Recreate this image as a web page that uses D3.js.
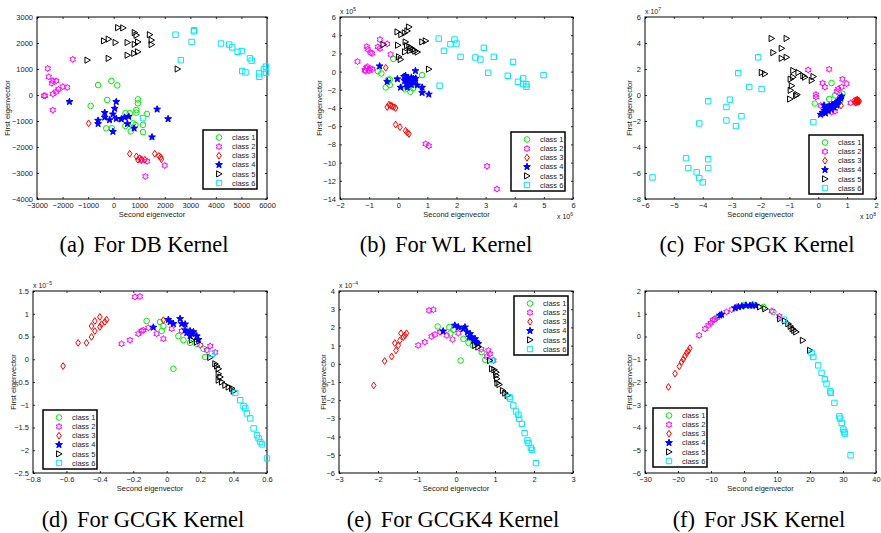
<!DOCTYPE html>
<html>
<head>
<meta charset="utf-8">
<script src="https://cdn.jsdelivr.net/npm/d3@7"></script>
<style>
  body { margin: 0; background: #fff; }
</style>
</head>
<body>
<div id="fig"></div>
<script>
const classNames = ["class 1", "class 2", "class 3", "class 4", "class 5", "class 6"];
const classColors = ["#00ee00", "#ff00ff", "#ff0000", "#0000ff", "#000000", "#00e5ff"];

// (a) DB kernel, one list per class
const dbPts = [
  [[-610,380],[-90,540],[140,370],[-250,-190],[950,-170],[950,-320],[-900,-420],[1300,-730],[890,-580],[890,-680],[460,-700],[630,-700],[-290,-1280],[-70,-1280],[460,-1190],[670,-1400],[760,-1090],[850,-1150],[1150,-1150],[1150,-1430]],
  [[-1600,1370],[-2580,1020],[-2540,700],[-2380,550],[-2250,540],[-2420,450],[-1990,320],[-1820,290],[-2160,220],[-2250,130],[-2380,40],[-2730,-30],[-2680,-30],[-2380,-580],[1090,-2520],[1310,-2550],[2000,-2710],[1240,-3130]],
  [[-980,-1090],[630,-2260],[890,-2360],[950,-2490],[1020,-2430],[1090,-2470],[1220,-2490],[1610,-2260],[1770,-2340],[1840,-2390],[1870,-2470]],
  [[-1730,-260],[100,-260],[40,-520],[-350,-680],[-30,-740],[-350,-860],[-160,-960],[-610,-980],[-610,-1110],[100,-910],[300,-930],[430,-860],[590,-830],[540,-1110],[800,-1280],[-30,-1410],[1700,-550],[2130,-920],[1500,-1620]],
  [[170,2590],[370,2580],[-380,2080],[-200,2150],[70,2020],[540,2020],[820,2400],[890,2300],[820,1950],[950,2040],[1410,2320],[1480,2110],[1480,1940],[540,1530],[800,1600],[950,1660],[-1030,1340],[-200,1410],[2500,1000]],
  [[2420,2320],[3140,2450],[3150,2490],[3050,2040],[2630,1340],[4200,1980],[4520,1940],[4640,1830],[4850,1660],[5010,1690],[5330,1410],[5400,1320],[5030,920],[5160,870],[5690,830],[5700,700],[5880,1000],[5960,1090],[5960,860],[1150,-890]]
];

// (b) WL kernel (x in 1e6, y in 1e5)
const wlPts = [
  [[-0.17,1.40],[-0.70,0.05],[-0.58,-0.20],[-0.29,-0.86],[-0.35,-0.90],[-0.29,-1.47],[-0.43,-1.74],[0.19,-1.59],[0.25,-1.95],[0.42,-2.21],[0.51,-1.85],[0.82,-0.38],[0.37,-1.66]],
  [[-1.40,1.10],[-1.05,2.45],[-1.08,2.75],[-0.95,2.10],[-0.90,2.00],[-0.63,3.52],[-0.70,2.72],[-0.63,2.53],[-0.38,3.05],[-0.26,1.88],[-1.15,0.16],[-1.06,0.53],[-0.97,0.34],[-0.89,0.27],[-1.10,0.40],[-1.00,0.10],[-1.12,0.05],[0.94,-7.94],[1.05,-8.16],[3.05,-10.4],[3.39,-12.9]],
  [[-0.43,0.42],[-0.38,-3.90],[-0.32,-3.63],[-0.26,-3.70],[-0.21,-3.80],[-0.15,-3.90],[-0.09,-4.00],[-0.09,-5.82],[0.06,-6.10],[0.25,-6.50],[0.31,-6.70],[0.37,-6.85]],
  [[-0.64,0.60],[-0.38,-1.10],[-0.03,-0.82],[0.25,-0.45],[0.30,-0.70],[0.35,-0.75],[0.45,-0.65],[0.52,-0.80],[0.60,-0.75],[0.22,-1.00],[0.28,-1.30],[0.40,-1.20],[0.55,-1.10],[0.65,-1.50],[0.59,0.08],[0.82,-1.74],[0.82,-2.32],[1.05,-2.50],[0.08,-1.74],[0.31,-1.74],[0.20,-0.55],[0.45,-1.45]],
  [[-0.03,4.36],[0.10,4.07],[0.22,4.25],[0.31,4.47],[0.37,4.90],[-0.51,2.97],[-0.01,2.90],[0.25,3.26],[0.30,2.85],[0.38,2.70],[0.45,2.60],[0.52,2.40],[0.58,2.25],[0.66,2.15],[0.40,2.30],[0.82,3.26],[0.94,3.37],[0.02,1.62],[0.08,1.33],[0.23,2.17],[1.05,0.27]],
  [[1.39,3.63],[1.57,2.28],[1.79,3.01],[1.93,3.52],[2.00,3.08],[2.14,1.62],[2.65,1.55],[2.82,1.33],[2.94,2.61],[3.28,1.62],[3.94,1.07],[3.09,-0.13],[3.76,-0.46],[4.11,-1.12],[4.29,-0.75],[4.29,-1.37],[4.40,-1.40],[4.40,-1.66],[4.99,-0.39],[1.42,-1.55]]
];

// (c) SPGK kernel (x in 1e8, y in 1e7)
const spgkPts = [
  [[0.46,0.92],[-0.12,-0.66],[0.38,-0.31],[0.58,-0.03],[0.84,0.10],[0.29,-1.12],[0.75,-0.48]],
  [[-0.35,1.93],[0.38,1.98],[0.15,0.92],[0.23,0.61],[-0.08,0.03],[-0.08,-0.15],[0.64,0.28],[0.81,0.61],[0.84,1.22],[0.98,0.87],[0.08,-0.81],[0.46,-1.32],[0.58,-1.25],[1.12,-0.61],[0.69,0.46]],
  [[1.24,-0.45],[1.28,-0.55],[1.31,-0.40],[1.33,-0.50],[1.36,-0.45],[1.38,-0.55],[1.40,-0.42],[1.30,-0.60],[1.35,-0.35],[1.42,-0.50],[0.79,-0.81]],
  [[0.08,-1.50],[0.15,-1.35],[0.22,-1.20],[0.28,-1.10],[0.32,-0.95],[0.38,-0.85],[0.42,-1.00],[0.48,-0.75],[0.52,-0.90],[0.58,-0.70],[0.62,-0.60],[0.68,-0.50],[0.72,-0.40],[0.78,-0.25],[0.81,-0.10],[0.25,-1.40],[0.35,-1.20],[0.45,-1.10],[0.55,-0.95],[0.65,-0.80],[0.20,-0.80]],
  [[-1.62,4.35],[-1.10,4.35],[-1.27,3.59],[-1.56,3.26],[-1.27,2.82],[-1.10,2.90],[-1.96,1.73],[-1.85,1.63],[-0.87,1.88],[-0.69,1.73],[-0.96,1.22],[-0.87,1.37],[-0.52,1.48],[-0.46,1.37],[-0.17,1.42],[-0.23,1.12],[-0.92,0.71],[-0.96,0.36],[-0.77,-0.05],[-0.98,-0.31],[-0.73,0.03]],
  [[-2.08,2.90],[-2.77,1.68],[-2.39,0.61],[-1.96,0.46],[-3.81,-0.48],[-3.06,-0.36],[-3.18,-0.92],[-2.66,-1.63],[-3.18,-1.96],[-4.12,-2.19],[-2.85,-2.39],[-0.17,-2.09],[-4.58,-4.86],[-3.81,-4.94],[-4.50,-5.62],[-3.81,-5.62],[-4.21,-5.95],[-4.12,-6.39],[-4.00,-6.72],[-5.74,-6.34]]
];

// (d) GCGK kernel (y in 1e-5)
const gcgkPts = [
  [[-0.12,0.84],[-0.04,0.82],[-0.02,0.73],[-0.03,0.62],[0.04,-0.21],[0.07,0.51],[0.10,0.42],[0.14,0.36],[0.18,0.34],[0.22,0.23],[0.23,0.05]],
  [[-0.19,1.37],[-0.16,1.38],[-0.27,0.34],[-0.22,0.42],[-0.17,0.56],[-0.15,0.62],[-0.14,0.64],[-0.11,0.69],[-0.06,0.56],[-0.02,0.45],[0.03,0.67],[0.09,0.62],[0.20,0.31],[0.24,0.20],[0.26,0.29],[0.29,0.15]],
  [[-0.62,-0.15],[-0.53,0.36],[-0.48,0.36],[-0.45,0.49],[-0.43,0.62],[-0.40,0.71],[-0.39,0.77],[-0.37,0.82],[-0.36,0.87],[-0.45,0.73],[-0.43,0.84],[-0.40,0.93],[-0.02,0.86]],
  [[-0.08,0.70],[0.01,0.87],[0.02,0.82],[0.04,0.78],[0.08,0.89],[0.09,0.78],[0.11,0.77],[0.11,0.64],[0.12,0.58],[0.14,0.62],[0.15,0.56],[0.16,0.60],[0.18,0.51],[0.19,0.43],[0.14,0.51]],
  [[0.15,0.42],[0.18,0.38],[0.26,0.04],[0.29,-0.10],[0.30,-0.15],[0.31,-0.21],[0.32,-0.39],[0.31,-0.46],[0.33,-0.50],[0.35,-0.57],[0.37,-0.61],[0.39,-0.64],[0.40,-0.70],[0.31,-0.32]],
  [[0.27,0.12],[0.41,-0.74],[0.44,-0.90],[0.46,-1.03],[0.47,-1.08],[0.48,-1.19],[0.50,-1.30],[0.52,-1.52],[0.54,-1.67],[0.55,-1.74],[0.56,-1.82],[0.57,-1.87],[0.60,-2.18]]
];

// (e) GCGK4 kernel (y in 1e-4)
const gcgk4Pts = [
  [[-0.47,2.05],[-0.17,2.01],[-0.14,1.68],[-0.07,1.87],[0.12,0.18],[0.19,1.37],[0.32,1.15],[0.43,1.01],[0.66,0.64],[0.75,0.22]],
  [[-0.97,1.01],[-0.80,1.19],[-0.69,2.93],[-0.58,2.97],[-0.63,1.50],[-0.54,1.61],[-0.41,1.74],[-0.24,1.56],[-0.09,1.34],[0.06,1.68],[0.83,0.73],[0.87,0.55],[0.79,0.40],[0.96,0.18],[0.65,0.80]],
  [[-2.11,-1.19],[-1.83,0.15],[-1.65,0.40],[-1.54,0.73],[-1.57,1.14],[-1.48,1.01],[-1.44,1.28],[-1.41,1.68],[-1.35,1.47],[-1.31,1.56],[-1.27,1.68]],
  [[-0.33,1.79],[-0.03,2.11],[0.06,2.01],[0.19,1.92],[0.23,2.01],[0.29,1.74],[0.36,1.65],[0.40,1.47],[0.45,1.28],[0.49,1.37],[0.53,1.19],[0.57,1.10],[0.34,1.47]],
  [[0.49,1.01],[0.57,0.92],[0.87,0.18],[0.92,-0.27],[0.98,-0.33],[1.03,-0.46],[1.05,-0.82],[1.06,-1.06],[1.11,-1.14],[1.20,-1.47],[1.26,-1.61],[1.32,-1.74],[1.03,-0.64]],
  [[0.92,0.22],[1.37,-1.83],[1.39,-1.92],[1.47,-2.29],[1.54,-2.62],[1.60,-2.80],[1.62,-3.02],[1.69,-3.30],[1.76,-3.81],[1.83,-4.21],[1.86,-4.36],[1.92,-4.62],[1.95,-4.73],[2.05,-5.46]]
];

// (f) JSK kernel
const jskPts = [
  [[-8.8,0.78],[0.0,1.37],[2.8,1.40],[5.9,1.30],[8.9,1.08]],
  [[-13.6,0.05],[-11.8,0.34],[-10.8,0.49],[-10.1,0.59],[-9.5,0.71],[-9.0,0.75],[-8.1,0.83],[-5.3,1.08],[-3.7,1.18],[-2.2,1.30],[8.4,1.12],[10.7,0.89]],
  [[-22.9,-2.22],[-20.9,-1.63],[-19.6,-1.31],[-18.9,-1.12],[-18.4,-1.00],[-17.9,-0.86],[-17.4,-0.73],[-16.9,-0.64],[-16.4,-0.51]],
  [[-7.3,0.93],[-6.8,0.97],[-2.7,1.25],[-1.7,1.30],[0.6,1.37],[1.8,1.36],[2.6,1.37],[3.6,1.36],[-0.7,1.33]],
  [[4.8,1.30],[6.4,1.22],[10.9,0.78],[12.4,0.68],[13.4,0.56],[14.1,0.45],[14.7,0.34],[15.2,0.27],[15.8,0.20],[17.8,-0.17],[20.0,-0.61]],
  [[12.1,0.74],[20.5,-0.73],[21.0,-0.90],[22.5,-1.27],[23.5,-1.60],[24.5,-1.88],[25.0,-2.07],[26.1,-2.41],[26.3,-2.48],[27.4,-2.92],[28.9,-3.51],[29.1,-3.61],[29.6,-3.80],[30.1,-4.09],[30.4,-4.20],[30.6,-4.27],[32.3,-5.22]]
];

// tick values
const dbXTicks = [-3000,-2000,-1000,0,1000,2000,3000,4000,5000,6000];
const dbYTicks = [-4000,-3000,-2000,-1000,0,1000,2000,3000];
const wlXTicks = [-2,-1,0,1,2,3,4,5,6];
const wlYTicks = [-14,-12,-10,-8,-6,-4,-2,0,2,4,6];
const spgkXTicks = [-6,-5,-4,-3,-2,-1,0,1,2];
const spgkYTicks = [-8,-6,-4,-2,0,2,4,6];
const gcgkXTicks = [-0.8,-0.6,-0.4,-0.2,0,0.2,0.4,0.6];
const gcgkYTicks = [-2.5,-2,-1.5,-1,-0.5,0,0.5,1,1.5];
const gcgk4XTicks = [-3,-2,-1,0,1,2,3];
const gcgk4YTicks = [-6,-5,-4,-3,-2,-1,0,1,2,3,4];
const jskXTicks = [-30,-20,-10,0,10,20,30,40];
const jskYTicks = [-6,-5,-4,-3,-2,-1,0,1,2];

const panels = [
  { pts: dbPts, tag: "(a)", title: "For DB Kernel", box: [37, 17, 267, 199],
    xDom: [-3000, 6000], yDom: [-4000, 3000], xt: dbXTicks, yt: dbYTicks,
    xExp: null, yExp: null, leg: [203, 130], yLabX: 7, cap: [144, 252] },
  { pts: wlPts, tag: "(b)", title: "For WL Kernel", box: [340, 17, 573, 199],
    xDom: [-2, 6], yDom: [-14, 6], xt: wlXTicks, yt: wlYTicks,
    xExp: "6", yExp: "5", leg: [511, 132], yLabX: 319, cap: [446, 252] },
  { pts: spgkPts, tag: "(c)", title: "For SPGK Kernel", box: [645, 17, 876, 199],
    xDom: [-6, 2], yDom: [-8, 6], xt: spgkXTicks, yt: spgkYTicks,
    xExp: "8", yExp: "7", leg: [809, 135], yLabX: 629, cap: [757, 252] },
  { pts: gcgkPts, tag: "(d)", title: "For GCGK Kernel", box: [33, 291, 267, 473],
    xDom: [-0.8, 0.6], yDom: [-2.5, 1.5], xt: gcgkXTicks, yt: gcgkYTicks,
    xExp: null, yExp: "\u22125", leg: [43, 410], yLabX: 13, cap: [143, 527] },
  { pts: gcgk4Pts, tag: "(e)", title: "For GCGK4 Kernel", box: [339, 291, 573, 473],
    xDom: [-3, 3], yDom: [-6, 4], xt: gcgk4XTicks, yt: gcgk4YTicks,
    xExp: null, yExp: "\u22124", leg: [514, 296], yLabX: 323, cap: [453, 527] },
  { pts: jskPts, tag: "(f)", title: "For JSK Kernel", box: [645, 291, 876, 473],
    xDom: [-30, 40], yDom: [-6, 2], xt: jskXTicks, yt: jskYTicks,
    xExp: null, yExp: null, leg: [653, 408], yLabX: 629, cap: [759, 527] }
];

// marker shapes, MATLAB style: o h d p > s
function markerPath(k) {
  const p = d3.path();
  if (k === 0) { p.arc(0, 0, 2.8, 0, 2 * Math.PI); }
  else if (k === 1) {
    for (let i = 0; i < 12; i++) {
      const r = i % 2 ? 1.9 : 3.2, a = i * Math.PI / 6 - Math.PI / 2;
      i ? p.lineTo(r * Math.cos(a), r * Math.sin(a)) : p.moveTo(r * Math.cos(a), r * Math.sin(a));
    }
    p.closePath();
  }
  else if (k === 2) { p.moveTo(0, -3.4); p.lineTo(2.3, 0); p.lineTo(0, 3.4); p.lineTo(-2.3, 0); p.closePath(); }
  else if (k === 3) {
    for (let i = 0; i < 10; i++) {
      const r = i % 2 ? 1.5 : 3.6, a = i * Math.PI / 5 - Math.PI / 2;
      i ? p.lineTo(r * Math.cos(a), r * Math.sin(a)) : p.moveTo(r * Math.cos(a), r * Math.sin(a));
    }
    p.closePath();
  }
  else if (k === 4) { p.moveTo(-2.4, -3.1); p.lineTo(3.1, 0); p.lineTo(-2.4, 3.1); p.closePath(); }
  else { p.rect(-2.7, -2.7, 5.4, 5.4); }
  return p.toString();
}

const svg = d3.select("#fig").append("svg")
  .attr("width", 881).attr("height", 533)
  .style("font-family", "'Liberation Sans', Arial, sans-serif");

function expLabel(g, x, y, anchor, e) {
  const t = g.append("text").attr("x", x).attr("y", y).attr("text-anchor", anchor)
    .style("font-size", "7px").style("fill", "#222");
  t.append("tspan").text("x 10");
  t.append("tspan").attr("dy", -3.5).style("font-size", "5px").text(e);
}

function drawPanel(p) {
  const [x0, y0, x1, y1] = p.box;
  const x = d3.scaleLinear().domain(p.xDom).range([x0, x1]);
  const y = d3.scaleLinear().domain(p.yDom).range([y1, y0]);
  const g = svg.append("g");

  g.append("rect").attr("x", x0).attr("y", y0).attr("width", x1 - x0).attr("height", y1 - y0)
    .attr("fill", "#fff").attr("stroke", "#000").attr("stroke-width", 1);

  const fmt = d3.format("");
  g.append("g").attr("transform", `translate(0,${y1})`)
    .call(d3.axisBottom(x).tickValues(p.xt).tickFormat(fmt).tickSizeInner(-2).tickSizeOuter(0).tickPadding(4));
  g.append("g").attr("transform", `translate(0,${y0})`)
    .call(d3.axisTop(x).tickValues(p.xt).tickFormat("").tickSizeInner(-2).tickSizeOuter(0));
  g.append("g").attr("transform", `translate(${x0},0)`)
    .call(d3.axisLeft(y).tickValues(p.yt).tickFormat(fmt).tickSizeInner(-2).tickSizeOuter(0).tickPadding(4));
  g.append("g").attr("transform", `translate(${x1},0)`)
    .call(d3.axisRight(y).tickValues(p.yt).tickFormat("").tickSizeInner(-2).tickSizeOuter(0));
  g.selectAll(".domain").remove();
  g.selectAll(".tick line").attr("stroke", "#000").attr("stroke-width", 0.8);
  g.selectAll(".tick text").style("font-size", "7.5px").style("fill", "#222")
    .style("font-family", "'Liberation Sans', Arial, sans-serif");

  // points
  p.pts.forEach((cls, k) => {
    g.append("g").selectAll("path").data(cls).join("path")
      .attr("transform", d => `translate(${x(d[0])},${y(d[1])})`)
      .attr("d", markerPath(k))
      .attr("fill", k === 3 ? classColors[k] : "none")
      .attr("stroke", classColors[k]).attr("stroke-width", 1);
  });

  // axis labels
  g.append("text").attr("x", (x0 + x1) / 2).attr("y", y1 + 18).attr("text-anchor", "middle")
    .style("font-size", "7.5px").style("fill", "#222").text("Second eigenvector");
  g.append("text").attr("transform", `translate(${p.yLabX},${(y0 + y1) / 2}) rotate(-90)`)
    .attr("text-anchor", "middle").attr("dy", "0.35em")
    .style("font-size", "7.5px").style("fill", "#222").text("First eigenvector");

  if (p.yExp) expLabel(g, x0, y0 - 3, "start", p.yExp);
  if (p.xExp) expLabel(g, x1, y1 + 20, "end", p.xExp);

  // legend
  const [lx, ly] = p.leg;
  const leg = g.append("g").attr("transform", `translate(${lx},${ly})`);
  leg.append("rect").attr("width", 54).attr("height", 59)
    .attr("fill", "#fff").attr("stroke", "#000").attr("stroke-width", 1.5);
  classNames.forEach((name, k) => {
    const ry = 7.5 + k * 9.1;
    leg.append("path").attr("transform", `translate(16,${ry})`).attr("d", markerPath(k))
      .attr("fill", k === 3 ? classColors[k] : "none")
      .attr("stroke", classColors[k]).attr("stroke-width", 1);
    leg.append("text").attr("x", 29).attr("y", ry).attr("dy", "0.35em")
      .style("font-size", "7.5px").style("fill", "#222").text(name);
  });

  // caption
  const cap = svg.append("text").attr("x", p.cap[0]).attr("y", p.cap[1]).attr("text-anchor", "middle")
    .style("font-family", "'Liberation Serif', 'Times New Roman', serif").style("font-size", "22.5px")
    .style("fill", "#000");
  cap.append("tspan").text(p.tag);
  cap.append("tspan").attr("dx", 9).text(p.title);
}

panels.forEach(drawPanel);
</script>
</body>
</html>
